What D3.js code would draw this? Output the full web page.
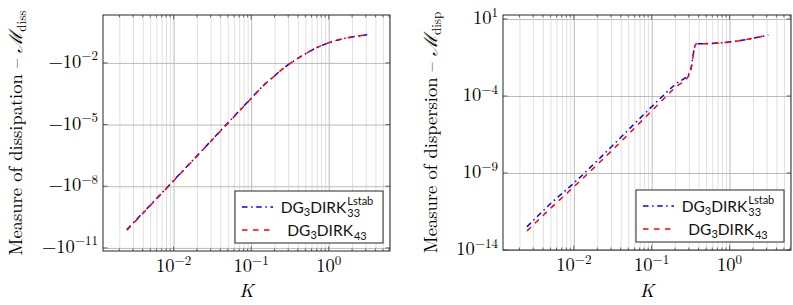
<!DOCTYPE html>
<html>
<head>
<meta charset="utf-8">
<script src="https://cdn.jsdelivr.net/npm/d3@7"></script>
<style>
  body { margin: 0; background: #fff; }
  svg { display: block; }
</style>
</head>
<body>
<div id="viz"></div>
<script>

// data
var kDiss = [0.0025, 0.005, 0.01, 0.02, 0.05, 0.1, 0.15, 0.2, 0.25, 0.316, 0.4, 0.5, 0.7, 1.0, 1.5, 2.0, 3.14];
var dissLstab = [-7.9e-11, -1.2e-9, -1.9e-8, -3.0e-7, -1.2e-5, -1.9e-4, -9.3e-4, -2.35e-3, -4.8e-3, -9.3e-3, -1.66e-2, -2.75e-2, -5.5e-2, -9.5e-2, -1.48e-1, -1.82e-1, -2.34e-1];
var diss43 = [-7.3e-11, -1.15e-9, -1.8e-8, -2.9e-7, -1.15e-5, -1.85e-4, -9.1e-4, -2.3e-3, -4.8e-3, -9.3e-3, -1.66e-2, -2.75e-2, -5.5e-2, -9.5e-2, -1.48e-1, -1.82e-1, -2.34e-1];

var kDisp = [0.0025, 0.005, 0.01, 0.02, 0.05, 0.1, 0.2, 0.31, 0.37, 0.5, 1.0, 2.0, 3.14];
var dispLstab = [3.2e-13, 1.0e-11, 2.2e-10, 6.3e-9, 6.3e-7, 2.0e-5, 5.6e-4, 3.6e-3, 0.24, 0.25, 0.32, 0.56, 0.91];
var disp43 = [1.7e-13, 5.0e-12, 1.26e-10, 3.5e-9, 3.2e-7, 1.07e-5, 3.5e-4, 2.8e-3, 0.24, 0.25, 0.32, 0.56, 0.91];

var xTickExp = [-2, -1, 0];
var dissTickExp = [-2, -5, -8, -11];
var dispTickExp = [1, -4, -9, -14];

var serif = "'Latin Modern Roman','CMU Serif','Liberation Serif',serif";
var sans = "'Lato','Open Sans','DejaVu Sans',sans-serif";

var svg = d3.select("#viz").append("svg").attr("width", 793).attr("height", 305);

function drawPanel(o)
{
    var x = d3.scaleLog().domain([Math.pow(10, -2.91), Math.pow(10, 0.79)]).range([o.left, o.right]);
    var y = d3.scaleLog().domain(o.yDomain).range([o.top, o.bottom]);
    var g = svg.append("g");

    // minor vertical grid
    var minors = [];
    for (var e = -3; e <= 0; e++)
        for (var m = 2; m <= 9; m++) {
            var v = m * Math.pow(10, e);
            if (v > x.domain()[0] && v < x.domain()[1]) minors.push(v);
        }
    g.append("g").attr("transform", "translate(0," + o.bottom + ")")
        .call(d3.axisBottom(x).tickValues(minors).tickSize(-(o.bottom - o.top)).tickFormat(""))
        .call(function (s) { s.select(".domain").remove(); s.selectAll("line").attr("stroke", "#e0e0e0"); });

    var majors = xTickExp.map(function (e) { return Math.pow(10, e); });
    g.append("g").attr("transform", "translate(0," + o.bottom + ")")
        .call(d3.axisBottom(x).tickValues(majors).tickSize(-(o.bottom - o.top)).tickFormat(""))
        .call(function (s) { s.select(".domain").remove(); s.selectAll("line").attr("stroke", "#bbbbbb"); });

    var yMaj = o.yTickExp.map(function (e) { return o.sign * Math.pow(10, e); });
    g.append("g").attr("transform", "translate(" + o.left + ",0)")
        .call(d3.axisLeft(y).tickValues(yMaj).tickSize(-(o.right - o.left)).tickFormat(""))
        .call(function (s) { s.select(".domain").remove(); s.selectAll("line").attr("stroke", "#bbbbbb"); });

    // small tick marks on the frame
    var tk = g.append("g").attr("stroke", "#444").attr("stroke-width", 0.8);
    minors.forEach(function (v) {
        tk.append("line").attr("x1", x(v)).attr("x2", x(v)).attr("y1", o.bottom).attr("y2", o.bottom - 2.5);
        tk.append("line").attr("x1", x(v)).attr("x2", x(v)).attr("y1", o.top).attr("y2", o.top + 2.5);
    });
    majors.forEach(function (v) {
        tk.append("line").attr("x1", x(v)).attr("x2", x(v)).attr("y1", o.bottom).attr("y2", o.bottom - 4.5);
        tk.append("line").attr("x1", x(v)).attr("x2", x(v)).attr("y1", o.top).attr("y2", o.top + 4.5);
    });
    yMaj.forEach(function (v) {
        tk.append("line").attr("y1", y(v)).attr("y2", y(v)).attr("x1", o.left).attr("x2", o.left + 4.5);
        tk.append("line").attr("y1", y(v)).attr("y2", y(v)).attr("x1", o.right).attr("x2", o.right - 4.5);
    });

    // curves
    var line = d3.line().curve(d3.curveMonotoneX)
        .x(function (d) { return x(d[0]); }).y(function (d) { return y(d[1]); });
    g.append("path").datum(o.k.map(function (k, i) { return [k, o.s1[i]]; }))
        .attr("d", line).attr("fill", "none").attr("stroke", "#0000ff")
        .attr("stroke-width", 1.5).attr("stroke-dasharray", "5.5,3.6,1.5,3.6");
    g.append("path").datum(o.k.map(function (k, i) { return [k, o.s2[i]]; }))
        .attr("d", line).attr("fill", "none").attr("stroke", "#ff0000")
        .attr("stroke-width", 1.5).attr("stroke-dasharray", "5.5,5.5");

    // frame
    g.append("rect").attr("x", o.left).attr("y", o.top)
        .attr("width", o.right - o.left).attr("height", o.bottom - o.top)
        .attr("fill", "none").attr("stroke", "#262626").attr("stroke-width", 1);

    // x tick labels
    majors.forEach(function (v, i) {
        var t = g.append("text").attr("x", x(v)).attr("y", o.bottom + 21)
            .attr("text-anchor", "middle").attr("font-family", serif).attr("font-size", 18.5);
        t.append("tspan").text("10");
        t.append("tspan").attr("dy", -7.5).attr("font-size", 13).text(xTickExp[i] < 0 ? "\u2212" + (-xTickExp[i]) : xTickExp[i]);
    });

    // y tick labels
    yMaj.forEach(function (v, i) {
        var t = g.append("text").attr("x", o.left - 5).attr("y", y(v) + 5)
            .attr("text-anchor", "end").attr("font-family", serif).attr("font-size", 18.5);
        t.append("tspan").text((o.sign < 0 ? "\u2212" : "") + "10");
        var ex = o.yTickExp[i];
        t.append("tspan").attr("dy", -7.5).attr("font-size", 13).text(ex < 0 ? "\u2212" + (-ex) : ex);
    });

    // axis titles
    var cx = (o.left + o.right) / 2, cy = (o.top + o.bottom) / 2;
    g.append("text").attr("x", cx).attr("y", 297).attr("text-anchor", "middle")
        .attr("font-family", serif).attr("font-style", "italic").attr("font-size", 19).text("K");
    var yt = g.append("text").attr("transform", "translate(" + o.titleX + "," + cy + ") rotate(-90)")
        .attr("text-anchor", "middle").attr("font-family", serif).attr("font-size", 18.5);
    yt.append("tspan").text(o.title + " \u2013 ");
    yt.append("tspan").attr("font-style", "italic").text("\u2133");
    yt.append("tspan").attr("dy", 4).attr("font-size", 13).text(o.sub);

    // legend
    var lx = o.right - 155, ly = o.bottom - 60, lw = 148, lh = 52;
    g.append("rect").attr("x", lx).attr("y", ly).attr("width", lw).attr("height", lh)
        .attr("fill", "#fff").attr("stroke", "#262626").attr("stroke-width", 1);
    var rows = [
        { color: "#0000ff", dash: "5.5,3.6,1.5,3.6", sub: "33", sup: "Lstab", y: ly + 16 },
        { color: "#ff0000", dash: "5.5,5.5", sub: "43", sup: "", y: ly + 39 }
    ];
    rows.forEach(function (r) {
        g.append("line").attr("x1", lx + 7).attr("x2", lx + 38).attr("y1", r.y).attr("y2", r.y)
            .attr("stroke", r.color).attr("stroke-width", 1.5).attr("stroke-dasharray", r.dash);
        var lg = g.append("g");
        var t = lg.append("text").attr("x", 0).attr("y", r.y + 5.5)
            .attr("font-family", sans).attr("font-size", 15.5).attr("fill", "#111");
        t.append("tspan").text("DG");
        t.append("tspan").attr("dy", 3.5).attr("font-size", 11).text("3");
        t.append("tspan").attr("dy", -3.5).text("DIRK");
        var w = t.node().getComputedTextLength();
        var s1 = lg.append("text").attr("x", w + 1).attr("y", r.y + 10)
            .attr("font-family", sans).attr("font-size", 11).attr("fill", "#111").text(r.sub);
        var wmax = s1.node().getComputedTextLength();
        if (r.sup) {
            var s2 = lg.append("text").attr("x", w + 1).attr("y", r.y - 2)
                .attr("font-family", sans).attr("font-size", 11).attr("fill", "#111").text(r.sup);
            wmax = Math.max(wmax, s2.node().getComputedTextLength());
        }
        var total = w + 1 + wmax;
        lg.attr("transform", "translate(" + (lx + 92 - total / 2) + ",0)");
    });
}

drawPanel({ left: 103, right: 390, top: 15, bottom: 251, sign: -1,
    yDomain: [-Math.pow(10, 0.33), -Math.pow(10, -11.15)], yTickExp: dissTickExp,
    k: kDiss, s1: dissLstab, s2: diss43, title: "Measure of dissipation", sub: "diss", titleX: 22 });

drawPanel({ left: 503, right: 791, top: 15, bottom: 250, sign: 1,
    yDomain: [Math.pow(10, 1.26), Math.pow(10, -14)], yTickExp: dispTickExp,
    k: kDisp, s1: dispLstab, s2: disp43, title: "Measure of dispersion", sub: "disp", titleX: 437 });

</script>
</body>
</html>
